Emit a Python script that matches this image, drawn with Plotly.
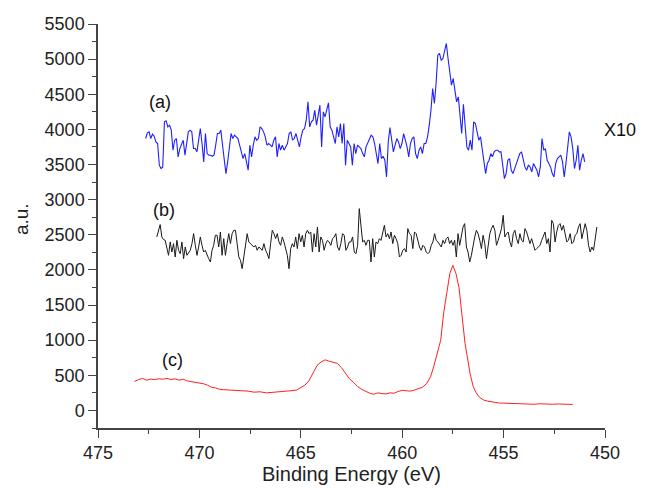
import numpy as np
import plotly.graph_objects as go

# ---- data ----
# (a) x10 spectrum: energy scan start/end (eV) and counts
a_start, a_end = 472.65, 451.0
a_counts = [3870, 3951, 3965, 3870, 3932, 3903, 3822, 3799, 3490, 3443, 3466, 4107, 4122, 4036, 4060, 3989,
            3704, 3846, 3870, 3609, 3727, 3799, 3846, 3633, 3775, 3965, 3989, 3965, 3727, 3727, 3680, 3822,
            4012, 3799, 3538, 3941, 3656, 3633, 3633, 3618, 3633, 3775, 3941, 3941, 3989, 3775, 3561, 3371,
            3538, 3704, 3941, 3870, 3917, 3894, 3870, 3775, 3656, 3585, 3656, 3514, 3419, 3775, 3609, 3775,
            3894, 3846, 3870, 4036, 4012, 3965, 3894, 3775, 3799, 3775, 3751, 3846, 3894, 3609, 3799, 3704,
            3775, 3704, 3751, 3799, 3941, 3965, 3846, 3870, 3941, 3846, 3751, 3894, 3989, 4012, 4131, 4392,
            4036, 4107, 4131, 4273, 4060, 4202, 4345, 3751, 4250, 4178, 4273, 4378, 4036, 3989, 3894, 3799,
            4036, 3894, 4084, 3799, 4084, 3490, 3846, 3799, 3751, 3490, 3799, 3656, 3775, 3751, 3727, 3656,
            3609, 3751,
            3799, 3870, 3917, 3894, 3799, 3656, 3514, 3799, 3585, 3618, 3561, 3324, 3822, 4027, 3846, 3680,
            3775, 3870, 3822, 3727, 3799, 3941, 3846, 3751, 3609, 3799, 3870, 3894, 3656, 3585, 3704, 3751,
            3656, 3799, 3799, 3894, 4060, 4273, 4582, 4368, 4653, 5057, 5081, 4986, 5009, 5128, 5223, 5009,
            4843, 4630, 4725, 4558, 4392, 4463, 4178, 3941, 4359, 3989, 3751, 3704, 3846, 3704, 4107, 4084,
            3941, 3846, 3894, 3704, 3514, 3371, 3514, 3561, 3656, 3609, 3680, 3704, 3704, 3680, 3680, 3490,
            3300, 3371, 3561, 3585, 3419, 3371, 3443, 3538, 3585, 3656, 3680, 3585, 3466, 3419, 3490, 3466,
            3395, 3514, 3466, 3419, 3324, 3466, 3870, 3704, 3727, 3561, 3514, 3466, 3371, 3324, 3514, 3585,
            3609, 3633, 3538, 3324, 3514, 3751, 3965, 3894, 3727, 3443, 3561, 3775, 3419, 3561, 3656, 3538]

# (b) spectrum
b_start, b_end = 472.1, 450.4
b_counts = [2469, 2564, 2645, 2469, 2431, 2421, 2326, 2208, 2398, 2255, 2374, 2184, 2421, 2279, 2231, 2398,
            2160, 2326, 2208, 2255, 2279, 2374, 2516, 2350, 2208, 2326, 2469, 2350, 2255, 2279, 2208, 2160,
            2113, 2279, 2350, 2493, 2493, 2326, 2540, 2208, 2445, 2208, 2374, 2516, 2374, 2516, 2564, 2564,
            2374, 2184, 2137, 2018, 2184, 2326, 2516, 2398, 2374, 2350, 2326, 2350, 2279, 2326, 2303, 2279,
            2374, 2279, 2231, 2160, 2374, 2564, 2516, 2445, 2516, 2398, 2350, 2469, 2398, 2303, 2208, 2018,
            2303, 2374, 2326, 2469, 2303, 2516, 2398, 2493, 2326, 2516, 2564, 2516, 2540, 2255, 2516, 2326,
            2611, 2255, 2469, 2421, 2279, 2374, 2421, 2398, 2350, 2445, 2469, 2516, 2326, 2279, 2374, 2516,
            2493, 2279, 2326, 2398, 2398, 2469, 2255, 2231, 2350, 2872, 2659, 2398, 2421, 2350, 2421,
            2421, 2113, 2445, 2184, 2398, 2374, 2445, 2421, 2540, 2635, 2469, 2516, 2445, 2540, 2374, 2493,
            2445, 2374, 2184, 2208, 2279, 2303, 2255, 2588, 2516, 2493, 2303, 2540, 2516, 2398, 2326, 2279,
            2350, 2326, 2255, 2231, 2255, 2350, 2398, 2516, 2421, 2398, 2350, 2326, 2421, 2374, 2445, 2469,
            2374, 2421, 2350, 2421, 2184, 2516, 2350, 2493, 2611, 2659, 2326, 2255, 2113, 2208, 2374, 2469,
            2564, 2516, 2421, 2303, 2493, 2374, 2160, 2350, 2516, 2588, 2635, 2564, 2350, 2421, 2493, 2588,
            2777, 2469, 2516, 2540, 2398, 2326, 2516, 2564, 2445, 2374, 2516, 2421, 2398, 2588, 2540, 2445,
            2374, 2445, 2350, 2279, 2303, 2326, 2350, 2421, 2493, 2540, 2374, 2445, 2255, 2706, 2659, 2398,
            2540, 2635, 2659, 2564, 2635, 2516, 2398, 2421, 2516, 2374, 2398, 2493, 2516, 2611, 2659, 2445,
            2540, 2659, 2564, 2350, 2255, 2326, 2279, 2469, 2611]

# (c) spectrum: energies (eV) and counts
c_energy = [473.2, 473.0, 472.8, 472.6, 472.4, 472.2, 472.0, 471.8, 471.6, 471.4, 471.2, 471.0, 470.8,
            470.6, 470.4, 470.2, 470.0, 469.8, 469.6, 469.4, 469.2, 469.0, 468.8, 468.5, 468.2, 467.9,
            467.6, 467.3, 467.0, 466.7, 466.4, 466.1, 465.8, 465.5, 465.2, 465.0, 464.8, 464.6, 464.4,
            464.2, 464.0, 463.8, 463.6, 463.4, 463.2, 463.0, 462.8, 462.6, 462.4, 462.2, 462.0, 461.8,
            461.6, 461.4, 461.2, 461.0, 460.8, 460.6, 460.4, 460.2, 460.0, 459.8, 459.6, 459.4, 459.2,
            459.0, 458.8, 458.6, 458.45, 458.3, 458.1, 457.95, 457.8, 457.65, 457.5, 457.35, 457.2,
            457.1, 457.0, 456.9, 456.8, 456.65, 456.5, 456.35, 456.2, 456.0, 455.8, 455.5, 455.2, 455.0,
            454.7, 454.4, 454.1, 453.8, 453.5, 453.2, 452.9, 452.6, 452.3, 452.0, 451.6]
c_counts = [413, 440, 455, 430, 445, 440, 450, 445, 455, 440, 450, 430, 445,
            420, 410, 400, 395, 380, 360, 330, 320, 300, 295, 290, 280, 285,
            275, 260, 265, 250, 255, 270, 265, 280, 290, 320, 360, 420, 520,
            640, 690, 720, 700, 680, 670, 610, 520, 450, 400, 340, 300, 270,
            245, 230, 250, 240, 235, 250, 245, 270, 285, 280, 275, 290, 310,
            330, 380, 480, 620, 800, 1000, 1400, 1700, 1950, 2066, 1950, 1750,
            1450, 1200, 950, 780, 520, 340, 250, 190, 150, 133, 115, 105, 104,
            100, 95, 100, 92, 88, 95, 90, 88, 92, 90, 85]

labels = ["(a)", "(b)", "(c)"]

a_energy = np.linspace(a_start, a_end, len(a_counts))
b_energy = np.linspace(b_start, b_end, len(b_counts))

FONT = "Liberation Sans, Arial, sans-serif"

fig = go.Figure()
fig.add_trace(go.Scatter(x=a_energy, y=a_counts, mode="lines",
                         line=dict(color="#2020ff", width=1.1), showlegend=False))
fig.add_trace(go.Scatter(x=b_energy, y=b_counts, mode="lines",
                         line=dict(color="#1a1a1a", width=1), showlegend=False))
fig.add_trace(go.Scatter(x=c_energy, y=c_counts, mode="lines",
                         line=dict(color="#ff2020", width=1), showlegend=False))

ann_font = dict(family=FONT, size=18, color="#111")
fig.add_annotation(x=471.94, y=4387, text=labels[0], showarrow=False, font=ann_font)
fig.add_annotation(x=471.75, y=2849, text=labels[1], showarrow=False, font=ann_font)
fig.add_annotation(x=471.35, y=712, text=labels[2], showarrow=False, font=ann_font)
fig.add_annotation(x=1.03, y=0.738, xref="paper", yref="paper", text="X10",
                   xanchor="center", yanchor="middle",
                   showarrow=False, font=ann_font)
fig.add_annotation(x=-0.152, y=0.517, xref="paper", yref="paper", text="a.u.",
                   xanchor="center", yanchor="middle",
                   textangle=-90, showarrow=False, font=dict(family=FONT, size=19, color="#222"))

axis_common = dict(
    showline=True, linecolor="#444", linewidth=1.5, mirror=False,
    ticks="outside", ticklen=8, tickwidth=1.2, tickcolor="#444",
    showgrid=False, zeroline=False, automargin=False,
    tickfont=dict(family=FONT, size=18, color="#222"),
)

fig.update_xaxes(range=[475, 450], dtick=5, tick0=450,
                 minor=dict(ticks="outside", ticklen=4, dtick=2.5, tickcolor="#444", showgrid=False),
                 title=dict(text="Binding Energy (eV)", font=dict(family=FONT, size=20, color="#222"),
                            standoff=0),
                 **axis_common)
fig.update_yaxes(range=[-250, 5500], dtick=500, tick0=0,
                 minor=dict(ticks="outside", ticklen=4, dtick=250, tickcolor="#444", showgrid=False),
                 **axis_common)

# page body adds an 8px offset; compensate so the plot area sits where the reference has it
fig.update_layout(
    width=656, height=486,
    margin=dict(l=90, r=59, t=16, b=66),
    paper_bgcolor="white", plot_bgcolor="white",
    font=dict(family=FONT),
)

fig.write_html("out.html")
